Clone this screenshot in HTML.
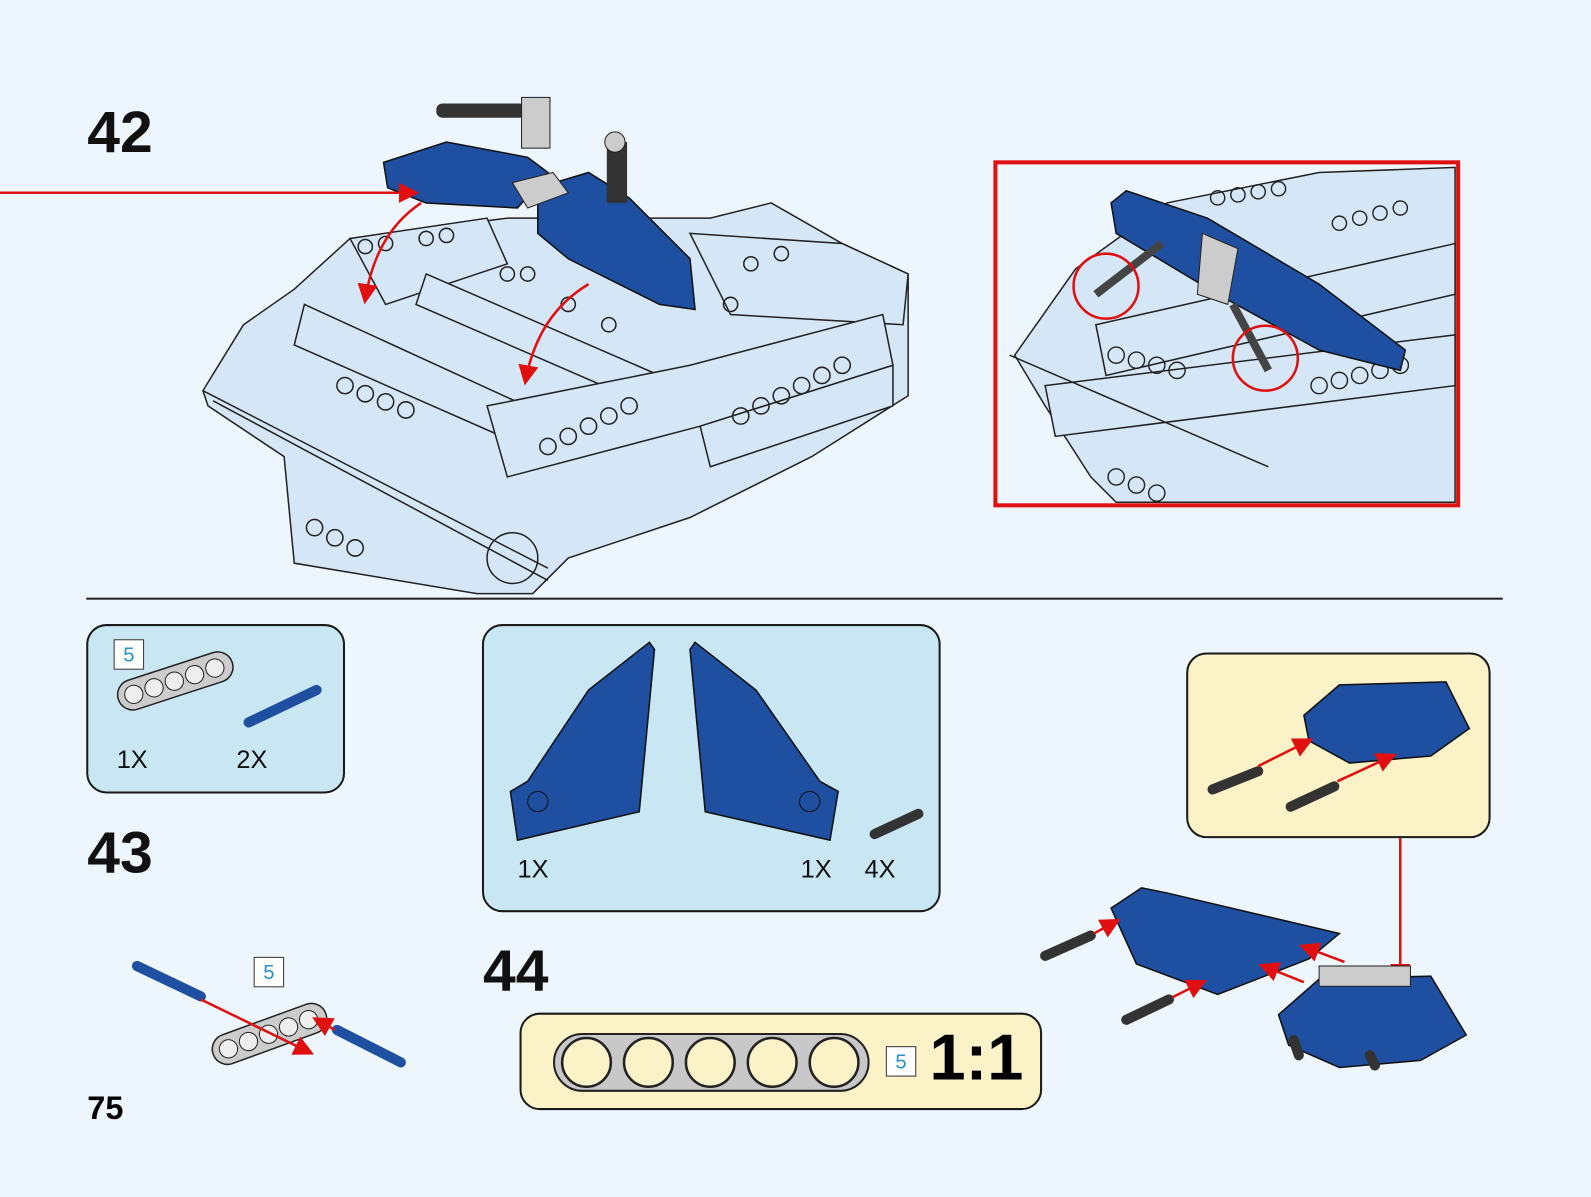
<!DOCTYPE html>
<html><head><style>
html,body{margin:0;padding:0;background:#eef6fd;}
body{width:1591px;height:1197px;position:relative;overflow:hidden;font-family:"Liberation Sans",sans-serif;}
#w{position:absolute;left:0;top:0;width:1568px;height:1180px;transform:scale(1.0147);transform-origin:0 0;}
.num{position:absolute;font-weight:bold;font-size:58px;color:#111;line-height:1;}
.box{position:absolute;border:2px solid #1a1a1a;border-radius:20px;box-sizing:border-box;}
.t{position:absolute;font-size:25px;color:#111;}
.sq{position:absolute;width:30px;height:30px;border:1.5px solid #333;background:#fff;color:#2a8fd0;font-size:20px;text-align:center;line-height:30px;box-sizing:border-box;}
</style></head><body><div id="w">
<div class="num" style="left:86px;top:102px">42</div>
<div class="num" style="left:86px;top:812px">43</div>
<div class="num" style="left:476px;top:928px">44</div>
<div style="position:absolute;left:86px;top:1074px;font-weight:bold;font-size:32px">75</div>
<div style="position:absolute;left:85px;top:589px;width:1396px;height:2px;background:#222"></div>

<div class="box" style="left:85px;top:615px;width:255px;height:167px;background:#c9e6f3"></div>
<div class="box" style="left:475px;top:615px;width:452px;height:284px;background:#c9e6f3"></div>
<div class="box" style="left:512px;top:998px;width:515px;height:96px;background:#fcf2c7"></div>
<div class="box" style="left:1169px;top:643px;width:300px;height:183px;background:#fcf2c7"></div>

<div class="sq" style="left:112px;top:630px">5</div>
<div class="sq" style="left:250px;top:943px">5</div>
<div class="sq" style="left:873px;top:1031px">5</div>
<div class="t" style="left:115px;top:735px">1X</div>
<div class="t" style="left:233px;top:735px">2X</div>
<div class="t" style="left:510px;top:843px">1X</div>
<div class="t" style="left:789px;top:843px">1X</div>
<div class="t" style="left:852px;top:843px">4X</div>
<div style="position:absolute;left:916px;top:1010px;font-weight:bold;font-size:64px;line-height:1">1:1</div>

<svg width="1568" height="1180" style="position:absolute;left:0;top:0">
<defs><marker id="ar" markerWidth="8" markerHeight="8" refX="6" refY="4" orient="auto"><path d="M0,0L8,4L0,8z" fill="#e01010"/></marker></defs>
<g stroke="#222" stroke-width="1.5" fill="#d5e7f7">
<polygon points="240,320 290,285 345,235 500,215 700,215 760,200 830,240 895,270 895,390 800,450 680,510 560,550 525,585 470,585 290,555 280,450 205,400 200,385"/>
<polygon points="345,235 480,215 500,260 380,300"/>
<polygon points="300,300 540,410 540,450 290,340"/>
<polygon points="420,270 650,370 640,400 410,300"/>
<polygon points="680,230 830,240 895,270 890,320 720,310"/>
<polygon points="480,400 680,360 870,310 880,360 690,420 500,470"/>
<polygon points="690,420 880,360 880,400 700,460"/>
<line x1="200" y1="385" x2="540" y2="560"/>
<line x1="210" y1="395" x2="540" y2="572"/>
<circle cx="505" cy="550" r="25" fill="none"/>
</g>
<g fill="none" stroke="#222" stroke-width="1.5">
<circle cx="340" cy="380" r="8"/><circle cx="360" cy="388" r="8"/><circle cx="380" cy="396" r="8"/><circle cx="400" cy="404" r="8"/>
<circle cx="540" cy="440" r="8"/><circle cx="560" cy="430" r="8"/><circle cx="580" cy="420" r="8"/><circle cx="600" cy="410" r="8"/><circle cx="620" cy="400" r="8"/>
<circle cx="730" cy="410" r="8"/><circle cx="750" cy="400" r="8"/><circle cx="770" cy="390" r="8"/><circle cx="790" cy="380" r="8"/><circle cx="810" cy="370" r="8"/><circle cx="830" cy="360" r="8"/>
<circle cx="310" cy="520" r="8"/><circle cx="330" cy="530" r="8"/><circle cx="350" cy="540" r="8"/>
<circle cx="360" cy="243" r="7"/><circle cx="380" cy="240" r="7"/><circle cx="420" cy="235" r="7"/><circle cx="440" cy="232" r="7"/>
<circle cx="500" cy="270" r="7"/><circle cx="520" cy="270" r="7"/><circle cx="560" cy="300" r="7"/><circle cx="600" cy="320" r="7"/>
<circle cx="740" cy="260" r="7"/><circle cx="770" cy="250" r="7"/><circle cx="720" cy="300" r="7"/>
</g>
<g fill="#1f4fa0" stroke="#111" stroke-width="1.5">
<polygon points="378,160 440,140 520,155 540,170 510,205 420,200 382,185"/>
<polygon points="530,185 580,170 620,195 680,255 685,305 650,300 560,255 530,230"/>
</g>
<polygon points="505,180 545,170 560,190 520,205" fill="#ccc" stroke="#222"/>
<rect x="430" y="102" width="88" height="14" rx="6" fill="#333"/>
<rect x="514" y="96" width="28" height="50" fill="#ccc" stroke="#222"/>
<rect x="598" y="140" width="20" height="60" fill="#333"/>
<circle cx="606" cy="140" r="10" fill="#ccc" stroke="#222"/>
<g stroke="#e01010" stroke-width="2.5" fill="none">
<line x1="0" y1="190" x2="408" y2="190" marker-end="url(#ar)"/>
<path d="M415,200 Q370,230 360,295" marker-end="url(#ar)"/>
<path d="M580,280 Q530,310 518,375" marker-end="url(#ar)"/>
</g>
<rect x="981" y="160" width="456" height="338" fill="none" stroke="#e01010" stroke-width="4"/>
<g stroke="#222" stroke-width="1.5" fill="#d5e7f7">
<polygon points="1060,265 1150,200 1300,170 1434,165 1434,495 1100,495 1075,470 1030,400 1000,350"/>
<polygon points="1080,320 1434,240 1434,290 1090,370"/>
<polygon points="1030,380 1434,330 1434,380 1040,430"/>
<line x1="995" y1="350" x2="1250" y2="460"/>
</g>
<g fill="none" stroke="#222" stroke-width="1.4">
<circle cx="1100" cy="350" r="8"/><circle cx="1120" cy="355" r="8"/><circle cx="1140" cy="360" r="8"/><circle cx="1160" cy="365" r="8"/>
<circle cx="1300" cy="380" r="8"/><circle cx="1320" cy="375" r="8"/><circle cx="1340" cy="370" r="8"/><circle cx="1360" cy="365" r="8"/><circle cx="1380" cy="360" r="8"/>
<circle cx="1200" cy="195" r="7"/><circle cx="1220" cy="192" r="7"/><circle cx="1240" cy="189" r="7"/><circle cx="1260" cy="186" r="7"/>
<circle cx="1320" cy="220" r="7"/><circle cx="1340" cy="215" r="7"/><circle cx="1360" cy="210" r="7"/><circle cx="1380" cy="205" r="7"/>
<circle cx="1100" cy="470" r="8"/><circle cx="1120" cy="478" r="8"/><circle cx="1140" cy="486" r="8"/>
</g>
<polygon points="1095,200 1110,188 1190,215 1300,280 1385,345 1380,365 1300,345 1200,290 1100,230" fill="#1f4fa0" stroke="#111" stroke-width="1.5"/>
<polygon points="1185,230 1220,245 1210,300 1180,290" fill="#ccc" stroke="#222"/>
<line x1="1080" y1="290" x2="1145" y2="240" stroke="#444" stroke-width="8"/>
<line x1="1215" y1="300" x2="1250" y2="365" stroke="#444" stroke-width="8"/>
<circle cx="1090" cy="282" r="32" fill="none" stroke="#e01010" stroke-width="2.5"/>
<circle cx="1247" cy="353" r="32" fill="none" stroke="#e01010" stroke-width="2.5"/>
<g transform="translate(112,675) rotate(-18)"><rect x="0" y="0" width="118" height="30" rx="15" fill="#ccc" stroke="#222" stroke-width="1.5"/>
<g fill="#eee" stroke="#222"><circle cx="16" cy="15" r="9"/><circle cx="37" cy="15" r="9"/><circle cx="58" cy="15" r="9"/><circle cx="79" cy="15" r="9"/><circle cx="100" cy="15" r="9"/></g></g>
<line x1="245" y1="712" x2="312" y2="680" stroke="#1f4fa0" stroke-width="10" stroke-linecap="round"/>
<path d="M640,633 L645,640 L630,800 L510,828 L503,780 L520,770 L580,680 Z" fill="#1f4fa0" stroke="#111" stroke-width="1.5"/>
<path d="M685,633 L680,640 L695,800 L818,828 L826,780 L808,770 L745,680 Z" fill="#1f4fa0" stroke="#111" stroke-width="1.5"/>
<circle cx="530" cy="790" r="10" fill="#1f4fa0" stroke="#111"/><circle cx="798" cy="790" r="10" fill="#1f4fa0" stroke="#111"/>
<line x1="862" y1="822" x2="905" y2="802" stroke="#333" stroke-width="10" stroke-linecap="round"/>
<g transform="translate(205,1025) rotate(-20)"><rect x="0" y="0" width="118" height="30" rx="15" fill="#ccc" stroke="#222" stroke-width="1.5"/>
<g fill="#eee" stroke="#222"><circle cx="16" cy="15" r="9"/><circle cx="37" cy="15" r="9"/><circle cx="58" cy="15" r="9"/><circle cx="79" cy="15" r="9"/><circle cx="100" cy="15" r="9"/></g></g>
<line x1="135" y1="952" x2="198" y2="982" stroke="#1f4fa0" stroke-width="10" stroke-linecap="round"/>
<line x1="332" y1="1015" x2="395" y2="1047" stroke="#1f4fa0" stroke-width="10" stroke-linecap="round"/>
<g stroke="#e01010" stroke-width="2.5" fill="none">
<line x1="198" y1="985" x2="305" y2="1037" marker-end="url(#ar)"/>
<line x1="330" y1="1015" x2="312" y2="1005" marker-end="url(#ar)"/>
</g>
<rect x="546" y="1019" width="310" height="56" rx="28" fill="#c8c8c8" stroke="#222" stroke-width="2"/>
<g fill="#fcf2c7" stroke="#222" stroke-width="2.5">
<circle cx="578" cy="1047" r="24"/><circle cx="639" cy="1047" r="24"/><circle cx="700" cy="1047" r="24"/><circle cx="761" cy="1047" r="24"/><circle cx="822" cy="1047" r="24"/></g>
<path d="M1285,705 L1320,675 L1425,672 L1448,718 L1410,745 L1330,752 L1290,730Z" fill="#1f4fa0" stroke="#111" stroke-width="1.5"/>
<line x1="1195" y1="778" x2="1240" y2="760" stroke="#333" stroke-width="10" stroke-linecap="round"/>
<line x1="1272" y1="795" x2="1315" y2="775" stroke="#333" stroke-width="10" stroke-linecap="round"/>
<g stroke="#e01010" stroke-width="2.5" fill="none">
<line x1="1240" y1="755" x2="1290" y2="730" marker-end="url(#ar)"/>
<line x1="1318" y1="770" x2="1372" y2="745" marker-end="url(#ar)"/>
<line x1="1380" y1="826" x2="1380" y2="965" marker-end="url(#ar)"/>
</g>
<path d="M1095,895 L1125,875 L1150,880 L1320,920 L1290,945 L1200,980 L1120,950Z" fill="#1f4fa0" stroke="#111" stroke-width="1.5"/>
<path d="M1260,1000 L1300,965 L1410,962 L1445,1020 L1400,1045 L1320,1052 L1270,1030Z" fill="#1f4fa0" stroke="#111" stroke-width="1.5"/>
<rect x="1300" y="952" width="90" height="20" fill="#ccc" stroke="#222"/>
<line x1="1030" y1="942" x2="1075" y2="922" stroke="#333" stroke-width="10" stroke-linecap="round"/>
<line x1="1110" y1="1005" x2="1152" y2="985" stroke="#333" stroke-width="10" stroke-linecap="round"/>
<line x1="1275" y1="1025" x2="1280" y2="1040" stroke="#333" stroke-width="10" stroke-linecap="round"/>
<line x1="1350" y1="1040" x2="1355" y2="1050" stroke="#333" stroke-width="10" stroke-linecap="round"/>
<g stroke="#e01010" stroke-width="2.5" fill="none">
<line x1="1078" y1="920" x2="1100" y2="908" marker-end="url(#ar)"/>
<line x1="1155" y1="983" x2="1185" y2="968" marker-end="url(#ar)"/>
<line x1="1285" y1="968" x2="1245" y2="952" marker-end="url(#ar)"/>
<line x1="1325" y1="948" x2="1285" y2="933" marker-end="url(#ar)"/>
</g>
</svg>
</div></body></html>
